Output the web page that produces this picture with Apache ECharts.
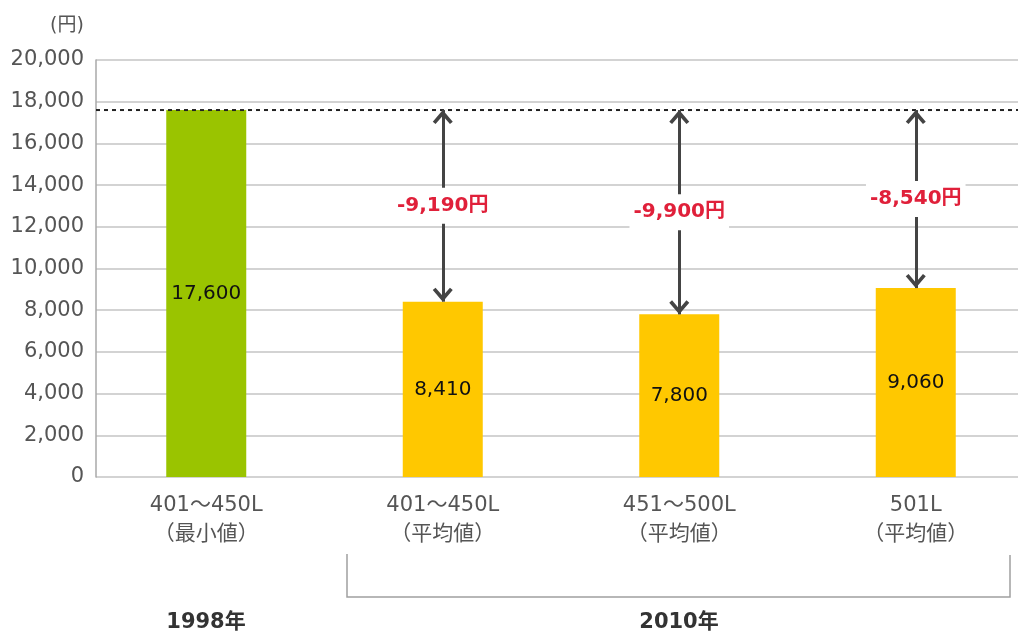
<!DOCTYPE html>
<html>
<head>
<meta charset="utf-8">
<script src="https://cdn.jsdelivr.net/npm/echarts@6/dist/echarts.min.js"></script>
<style>
  html, body { margin: 0; padding: 0; background: #fff; }
  #chart { width: 1018px; height: 636px; }
</style>
</head>
<body>
<div id="chart"></div>
<script>
// Refrigerator capacity classes and their annual electricity cost (円)
const sizeRanges = ['401～450L', '401～450L', '451～500L', '501L'];
const statKinds = ['（最小値）', '（平均値）', '（平均値）', '（平均値）'];
const annualCost = [17600, 8410, 7800, 9060];
const savingLabels = ['', '-9,190円', '-9,900円', '-8,540円'];
const yearLabels = ['1998年', '2010年'];
const yUnit = '(円)';
const yMin = 0, yMax = 20000, yStep = 2000;

const FONT = '"DejaVu Sans", "Noto Sans CJK JP", sans-serif';
const GREEN = '#9ac400';
const YELLOW = '#ffc800';

const baseline = annualCost[0];
const categories = sizeRanges.map((s, i) => s + '\n' + statKinds[i]);
const slots = categories.map((_, i) => i);

const barData = annualCost.map((v, i) => ({
  value: [i, v],
  itemStyle: { color: i === 0 ? GREEN : YELLOW }
}));

// double-headed arrows from the 1998 level down to each 2010 bar
const arrowData = annualCost.slice(1).map((v, k) => [
  { coord: [k + 1, baseline] },
  { coord: [k + 1, v] }
]);

// labels placed halfway along each arrow
const midData = annualCost
  .map((v, i) => ({ value: [i, (baseline + v) / 2], text: savingLabels[i] }))
  .filter(d => d.text);

const chevron = 'path://M50,0 L100,62 L86,74 L50,30 L14,74 L0,62 Z';

const chart = echarts.init(document.getElementById('chart'));
chart.setOption({
  animation: false,
  backgroundColor: '#ffffff',
  grid: [
    { left: 96, right: 0, top: 60, bottom: 159 },
    { left: 88, right: 0, top: 60, bottom: 159 }
  ],
  xAxis: [
    { gridIndex: 0, type: 'value', min: 0, max: 1, show: false },
    {
      // slot axis: one unit per bar, wider spacing than the plot frame
      gridIndex: 1, type: 'value', min: -0.5, max: 3.4323,
      axisLine: { show: false }, axisTick: { show: false }, splitLine: { show: false },
      axisLabel: {
        customValues: slots,
        formatter: v => categories[Math.round(v)],
        color: '#555', fontFamily: FONT, fontSize: 21, lineHeight: 29, margin: 14
      }
    }
  ],
  yAxis: [
    {
      gridIndex: 0, type: 'value', min: yMin, max: yMax, interval: yStep,
      axisLine: { show: true, lineStyle: { color: '#a8a8a8', width: 1.5 } },
      axisTick: { show: false },
      splitLine: { lineStyle: { color: '#c4c4c4', width: 1.5 } },
      axisLabel: {
        color: '#555', fontFamily: FONT, fontSize: 21, margin: 12,
        formatter: v => v.toLocaleString('en-US')
      }
    },
    { gridIndex: 1, type: 'value', min: yMin, max: yMax, interval: yStep, show: false }
  ],
  series: [
    {
      // dashed reference at the 1998 level
      type: 'line', xAxisIndex: 0, yAxisIndex: 0,
      data: [[0, baseline], [1, baseline]],
      symbol: 'none', silent: true, z: 4,
      lineStyle: { color: '#222', width: 2, type: [4, 4] }
    },
    {
      type: 'bar', xAxisIndex: 1, yAxisIndex: 1,
      data: barData, barWidth: 80, z: 2,
      label: {
        show: true, position: 'inside', color: '#111',
        fontFamily: FONT, fontSize: 20,
        formatter: p => p.value[1].toLocaleString('en-US')
      },
      markLine: {
        silent: true,
        symbol: [chevron, chevron],
        symbolSize: [20, 14],
        symbolOffset: [[0, 7], [0, 7]],
        label: { show: false },
        lineStyle: { color: '#444', width: 3, type: 'solid' },
        emphasis: { disabled: true },
        data: arrowData
      }
    },
    {
      type: 'scatter', xAxisIndex: 1, yAxisIndex: 1,
      data: midData, symbolSize: 1,
      itemStyle: { color: 'rgba(255,255,255,0)', opacity: 1 }, z: 6,
      label: {
        show: true, position: 'inside',
        formatter: p => p.data.text,
        color: '#e0203a', fontWeight: 'bold', fontFamily: FONT, fontSize: 20,
        backgroundColor: '#ffffff', padding: [8, 4]
      }
    }
  ],
  graphic: [
    {
      type: 'text', left: 50, top: 17,
      style: { text: yUnit, fill: '#555', font: '19px ' + FONT }
    },
    {
      type: 'polyline', silent: true,
      shape: { points: [[347, 554], [347, 597], [1010, 597], [1010, 555]] },
      style: { stroke: '#a0a0a0', lineWidth: 1.5, fill: null }
    },
    {
      type: 'text', x: 206, y: 623,
      style: { text: yearLabels[0], fill: '#333', font: 'bold 21px ' + FONT, align: 'center', verticalAlign: 'middle' }
    },
    {
      type: 'text', x: 679, y: 623,
      style: { text: yearLabels[1], fill: '#333', font: 'bold 21px ' + FONT, align: 'center', verticalAlign: 'middle' }
    }
  ]
});
</script>
</body>
</html>
